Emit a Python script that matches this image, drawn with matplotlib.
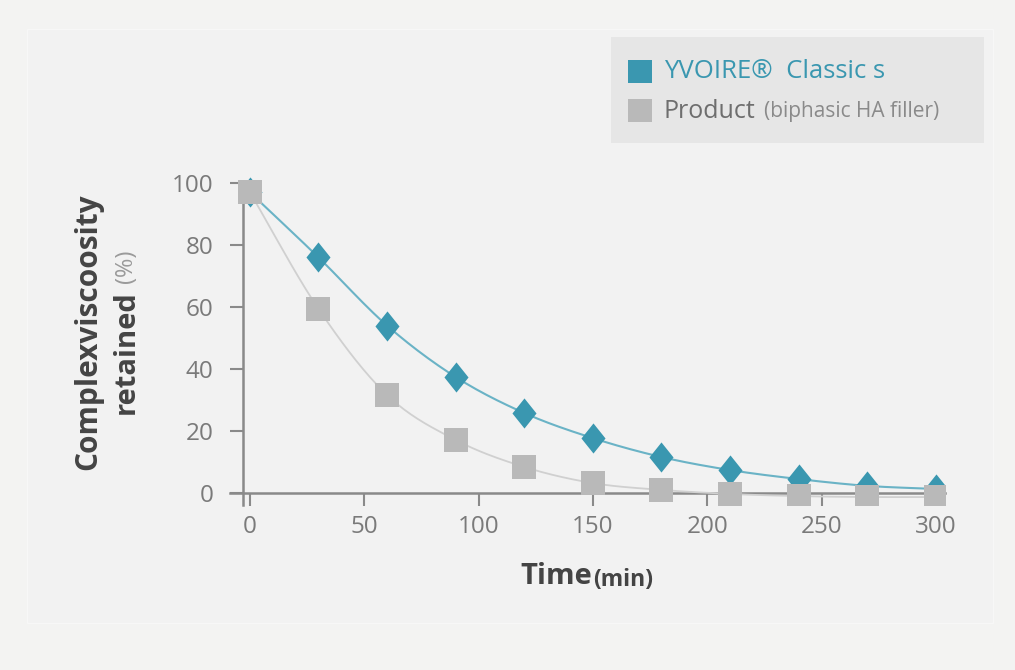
import numpy as np
import matplotlib.pyplot as plt
from matplotlib.patches import Rectangle
from matplotlib.path import Path

# data
time_min = [0, 30, 60, 90, 120, 150, 180, 210, 240, 270, 300]
yvoire = [97, 76, 54, 37.4, 25.8, 17.7, 11.6, 7.4, 4.5, 2.3, 1.3]
product = [97, 59.4, 31.6, 17.1, 8.4, 3.2, 1.0, -0.3, -1.0, -1.3, -1.3]
x_ticks = [0, 50, 100, 150, 200, 250, 300]
y_ticks = [0, 20, 40, 60, 80, 100]

teal = '#3a97b0'
teal_line = '#6ab3c6'
grey = '#b9b9b9'
grey_line = '#d0d0d0'
axis_col = '#8a8a8a'


def smooth(x, y, n=20):
    # catmull-rom curve through the points, only for drawing the line
    x = np.asarray(x, float)
    y = np.asarray(y, float)
    m = np.gradient(y, x)
    xs, ys = [], []
    for i in range(len(x) - 1):
        h = x[i + 1] - x[i]
        t = np.linspace(0, 1, n, endpoint=False)
        h00 = 2 * t**3 - 3 * t**2 + 1
        h10 = t**3 - 2 * t**2 + t
        h01 = -2 * t**3 + 3 * t**2
        h11 = t**3 - t**2
        xs.append(x[i] + t * h)
        ys.append(h00 * y[i] + h10 * h * m[i] + h01 * y[i + 1] + h11 * h * m[i + 1])
    xs.append([x[-1]])
    ys.append([y[-1]])
    return np.concatenate(xs), np.concatenate(ys)


# slightly tall diamond like in the picture
tall_diamond = Path([(0, 1), (0.8, 0), (0, -1), (-0.8, 0), (0, 1)],
                    [Path.MOVETO, Path.LINETO, Path.LINETO, Path.LINETO, Path.CLOSEPOLY])

plt.rcParams['font.family'] = ['Open Sans', 'DejaVu Sans']

fig = plt.figure(figsize=(10.15, 6.70), dpi=100, facecolor='#f3f3f2')
W, H = 1015, 670

# faint inner panel
fig.patches.append(Rectangle((27 / W, 1 - 623 / H), 966 / W, 594 / H,
                             transform=fig.transFigure, facecolor='#f2f2f2',
                             edgecolor='#f7f7f7', lw=1, zorder=-2))

ax = fig.add_axes([230 / W, 1 - 505.4 / H, 715 / W, 328.6 / H])
ax.set_facecolor('none')
ax.set_xlim(-8.7, 304)
ax.set_ylim(-4, 102)

sx, sy = smooth(time_min, product)
ax.plot(sx, sy, color=grey_line, lw=1.3, zorder=2)
sx, sy = smooth(time_min, yvoire)
ax.plot(sx, sy, color=teal_line, lw=1.5, zorder=3)

ax.scatter(time_min, yvoire, marker=tall_diamond, s=470, color=teal, zorder=4, linewidths=0)
ax.scatter(time_min, product, marker='s', s=280, color=grey, zorder=5, linewidths=0)

for s in ['top', 'right']:
    ax.spines[s].set_visible(False)
ax.spines['left'].set_position(('data', -3))
ax.spines['left'].set_bounds(-4, 100)
ax.spines['bottom'].set_position(('data', 0))
for s in ['left', 'bottom']:
    ax.spines[s].set_color(axis_col)
    ax.spines[s].set_linewidth(1.8)
    ax.spines[s].set_zorder(1)

ax.set_xticks(x_ticks)
ax.set_yticks(y_ticks)
ax.tick_params(axis='y', direction='out', length=9.5, width=1.5, color=axis_col,
               labelsize=17.5, labelcolor='#7a7a7a', pad=12)
ax.tick_params(axis='x', direction='out', length=9, width=1.5, color=axis_col,
               labelsize=17.5, labelcolor='#7a7a7a', pad=7)

# y axis title (two lines, mixed weight)
fig.text(88 / W, 1 - 332 / H, 'Complexviscoosity', rotation=90, ha='center', va='center',
         fontsize=21.5, fontweight='bold', color='#444444')
fig.text(126 / W, 1 - 290 / H, 'retained', rotation=90, rotation_mode='anchor',
         ha='right', va='center', fontsize=21, fontweight='bold', color='#444444')
fig.text(126 / W, 1 - 283 / H, '(%)', rotation=90, rotation_mode='anchor',
         ha='left', va='center', fontsize=17, color='#9a9a9a')

# x axis title
fig.text(592 / W, 1 - 577 / H, 'Time', ha='right', va='center',
         fontsize=21, fontweight='bold', color='#444444')
fig.text(593 / W, 1 - 580 / H, '(min)', ha='left', va='center',
         fontsize=16.5, fontweight='bold', color='#444444')

# legend box
fig.patches.append(Rectangle((611 / W, 1 - 143 / H), 373 / W, 106 / H,
                             transform=fig.transFigure, facecolor='#e6e6e6',
                             edgecolor='none', zorder=1))
fig.patches.append(Rectangle((628 / W, 1 - 83 / H), 24 / W, 23 / H,
                             transform=fig.transFigure, facecolor=teal,
                             edgecolor='none', zorder=2))
fig.patches.append(Rectangle((628 / W, 1 - 122 / H), 24 / W, 23 / H,
                             transform=fig.transFigure, facecolor=grey,
                             edgecolor='none', zorder=2))
fig.text(664 / W, 1 - 72 / H, 'YVOIRE®  Classic s', ha='left', va='center',
         fontsize=18.5, color=teal, zorder=3)
fig.text(664 / W, 1 - 111 / H, 'Product', ha='left', va='center',
         fontsize=18, color='#6e6e6e', zorder=3)
fig.text(764 / W, 1 - 112 / H, '(biphasic HA filler)', ha='left', va='center',
         fontsize=15, color='#8a8a8a', zorder=3)

fig.savefig('out.png', dpi=100, facecolor=fig.get_facecolor())
